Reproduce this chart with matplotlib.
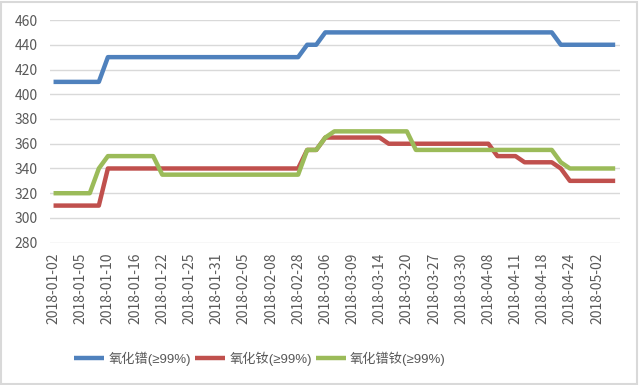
import numpy as np
import matplotlib.pyplot as plt
from matplotlib.patches import Rectangle

plt.rcParams['font.family'] = ['Noto Sans CJK SC', 'DejaVu Sans']

# tick labels shown on the x axis (every 3rd trading day)
tick_labels = ['2018-01-02', '2018-01-05', '2018-01-10', '2018-01-16', '2018-01-22',
               '2018-01-25', '2018-01-31', '2018-02-05', '2018-02-08', '2018-02-28',
               '2018-03-06', '2018-03-09', '2018-03-14', '2018-03-20', '2018-03-27',
               '2018-03-30', '2018-04-08', '2018-04-11', '2018-04-18', '2018-04-24',
               '2018-05-02']

# prices, one value per trading day (63 days)
pr_oxide = ([410] * 6 + [430] * 22 + [440] * 2 + [450] * 26 + [440] * 7)
nd_oxide = ([310] * 6 + [340] * 22 + [355] * 2 + [365] * 7 + [360] * 12
            + [350] * 3 + [345] * 4 + [340] + [330] * 6)
prnd_oxide = ([320] * 5 + [340] + [350] * 6 + [335] * 16 + [355] * 2 + [365]
              + [370] * 9 + [355] * 16 + [345] + [340] * 6)

names = ['氧化镨(≥99%)', '氧化钕(≥99%)', '氧化镨钕(≥99%)']
colors = ['#4F81BD', '#C0504D', '#9BBB59']

fig = plt.figure(figsize=(6.4, 3.85), dpi=100)
ax = fig.add_axes([0.078, 0.3696, 0.891, 0.5784])

x = np.arange(len(pr_oxide))
for vals, name, c in zip([pr_oxide, nd_oxide, prnd_oxide], names, colors):
    ax.plot(x, vals, color=c, lw=3.2, label=name, solid_capstyle='butt')

ax.set_ylim(280, 460)
ax.set_yticks(range(280, 461, 20))
ax.set_xlim(-0.4, 62.55)
ax.set_xticks(x[::3])
ax.set_xticklabels(tick_labels, rotation=90)
ax.grid(axis='y', color='#D9D9D9', lw=1)
ax.set_axisbelow(True)
for s in ax.spines.values():
    s.set_visible(False)
ax.tick_params(length=0, colors='#595959', labelsize=10)
ax.tick_params(axis='y', pad=9)
ax.tick_params(axis='x', pad=7)

fig.legend(loc='center', bbox_to_anchor=(0.406, 0.068), ncol=3, frameon=False,
           prop={'family': ['Liberation Sans', 'Noto Sans CJK SC'], 'size': 9.5},
           handlelength=2.3, columnspacing=0.3, handletextpad=0.3,
           labelcolor='#595959')

# light frame around the whole chart
fig.patches.append(Rectangle((0.002, 0.002), 0.993, 0.994, transform=fig.transFigure,
                             fill=False, edgecolor='#D9D9D9', lw=1.5))

fig.savefig('out.png', dpi=100)
